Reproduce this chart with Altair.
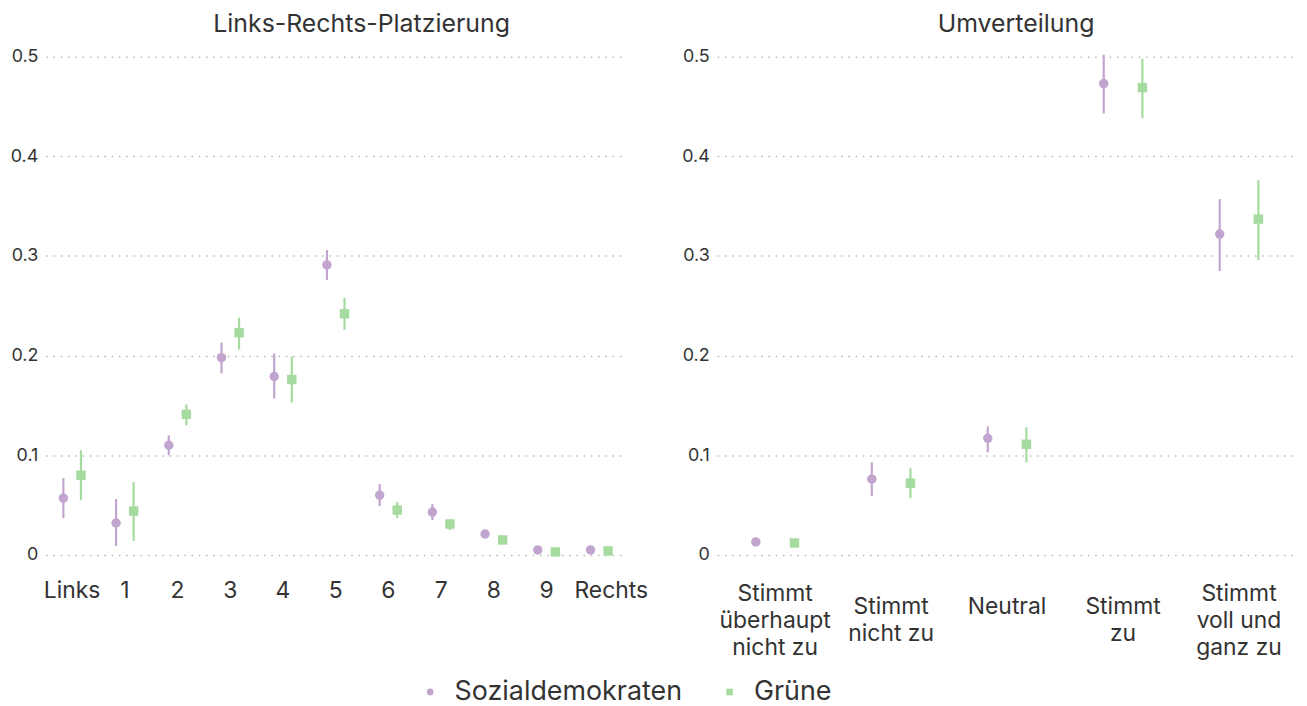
import altair as alt
import pandas as pd

parties = ["Sozialdemokraten", "Grüne"]
colors = ["#c2a5cf", "#a6dba0"]
shapes = ["circle", "square"]

lr_cats = ["Links", "1", "2", "3", "4", "5", "6", "7", "8", "9", "Rechts"]
lr_spd = [0.057, 0.032, 0.110, 0.198, 0.179, 0.291, 0.060, 0.043, 0.021, 0.005, 0.005]
lr_spd_lo = [0.037, 0.009, 0.100, 0.182, 0.157, 0.276, 0.049, 0.035, 0.018, 0.003, 0.003]
lr_spd_hi = [0.077, 0.056, 0.120, 0.213, 0.202, 0.306, 0.071, 0.051, 0.024, 0.007, 0.007]
lr_gr = [0.080, 0.044, 0.141, 0.223, 0.176, 0.242, 0.045, 0.031, 0.015, 0.003, 0.004]
lr_gr_lo = [0.055, 0.014, 0.130, 0.206, 0.153, 0.226, 0.037, 0.025, 0.012, 0.001, 0.002]
lr_gr_hi = [0.105, 0.073, 0.151, 0.238, 0.199, 0.258, 0.053, 0.036, 0.018, 0.005, 0.006]

uv_cats = ["Stimmt\nüberhaupt\nnicht zu", "Stimmt\nnicht zu", "Neutral", "Stimmt\nzu", "Stimmt\nvoll und\nganz zu"]
uv_spd = [0.013, 0.076, 0.117, 0.473, 0.322]
uv_spd_lo = [0.010, 0.059, 0.103, 0.443, 0.285]
uv_spd_hi = [0.016, 0.093, 0.129, 0.502, 0.357]
uv_gr = [0.012, 0.072, 0.111, 0.469, 0.337]
uv_gr_lo = [0.009, 0.057, 0.093, 0.438, 0.296]
uv_gr_hi = [0.015, 0.087, 0.128, 0.498, 0.376]

y_ticks = [0, 0.1, 0.2, 0.3, 0.4, 0.5]

FONT = "Inter"
TEXT = "#333333"


def make_df(cats, spd, spd_lo, spd_hi, gr, gr_lo, gr_hi):
    rows = []
    for i, c in enumerate(cats):
        rows.append({"cat": c, "party": parties[0], "v": spd[i], "lo": spd_lo[i], "hi": spd_hi[i]})
        rows.append({"cat": c, "party": parties[1], "v": gr[i], "lo": gr_lo[i], "hi": gr_hi[i]})
    return pd.DataFrame(rows)


def panel(df, cats, title, dx, label_padding, label_expr, label_baseline, label_offset, show_legend):
    x = alt.X("cat:N", sort=cats, title=None,
              scale=alt.Scale(paddingInner=0, paddingOuter=0),
              axis=alt.Axis(labelAngle=0, ticks=False, tickSize=0, domain=False, grid=False,
                            labelFont=FONT, labelFontSize=23, labelColor=TEXT,
                            labelBaseline=label_baseline, labelPadding=label_padding,
                            labelOffset=label_offset,
                            labelLineHeight=27, labelExpr=label_expr, labelLimit=300))
    xo = alt.XOffset("party:N", sort=parties,
                     scale=alt.Scale(paddingInner=0, paddingOuter=0.5))
    y = alt.Y("v:Q", title=None,
              scale=alt.Scale(domain=[-0.02, 0.52], nice=False, zero=False),
              axis=alt.Axis(values=y_ticks, ticks=False, tickSize=0, domain=False, grid=True,
                            gridColor="#b8b8b8", gridDash=[1.5, 5.8], gridWidth=1.5,
                            labelFont=FONT, labelFontSize=18, labelColor=TEXT, labelPadding=8,
                            labelExpr="datum.value == 0 ? '0' : format(datum.value, '.1f')"))
    if show_legend:
        leg = alt.Legend(title=None, orient="none", direction="horizontal",
                         legendX=373, legendY=645,
                         labelFont=FONT, labelFontSize=27, labelColor=TEXT, labelLimit=500,
                         symbolSize=45, symbolOpacity=1, symbolStrokeWidth=0,
                         columnPadding=34, labelOffset=11)
    else:
        leg = None
    color = alt.Color("party:N", sort=parties,
                      scale=alt.Scale(domain=parties, range=colors),
                      legend=leg)
    shape = alt.Shape("party:N", sort=parties,
                      scale=alt.Scale(domain=parties, range=shapes),
                      legend=leg)
    rules = alt.Chart(df).mark_rule(strokeWidth=2.2).encode(
        x=x, xOffset=xo, y=alt.Y("lo:Q"), y2="hi:Q", color=color)
    pts = alt.Chart(df).mark_point(filled=True, opacity=1, size=90, strokeWidth=0).encode(
        x=x, xOffset=xo, y=y, color=color, shape=shape)
    return alt.layer(rules, pts).properties(
        width=583, height=541,
        title=alt.TitleParams(title, font=FONT, fontSize=25, fontWeight="normal",
                              color=TEXT, anchor="middle", dx=dx, offset=0))


lr_df = make_df(lr_cats, lr_spd, lr_spd_lo, lr_spd_hi, lr_gr, lr_gr_lo, lr_gr_hi)
uv_df = make_df(uv_cats, uv_spd, uv_spd_lo, uv_spd_hi, uv_gr, uv_gr_lo, uv_gr_hi)

left_offset = {"condition": {"test": "datum.label == 'Rechts'", "value": 12}, "value": 0}
left = panel(lr_df, lr_cats, "Links-Rechts-Platzierung", 26, 16, "datum.label", "middle",
             left_offset, True)
# three-line labels sit half a line higher than one- and two-line labels
right_baseline = {"condition": {"test": "length(split(datum.label, '\\n')) == 3", "value": "middle"},
                  "value": "line-top"}
right = panel(uv_df, uv_cats, "Umverteilung", 9, 19, "split(datum.label, '\\n')",
              right_baseline, 0, False)

chart = alt.hconcat(left, right, spacing=92, bounds="flush").resolve_scale(
    color="shared", shape="shared", x="independent", xOffset="independent"
).configure(
    padding={"left": 2, "top": 2, "right": 2, "bottom": 2}
).configure_view(stroke=None)

chart.save("out.html", embed_options={"renderer": "svg", "actions": False})
